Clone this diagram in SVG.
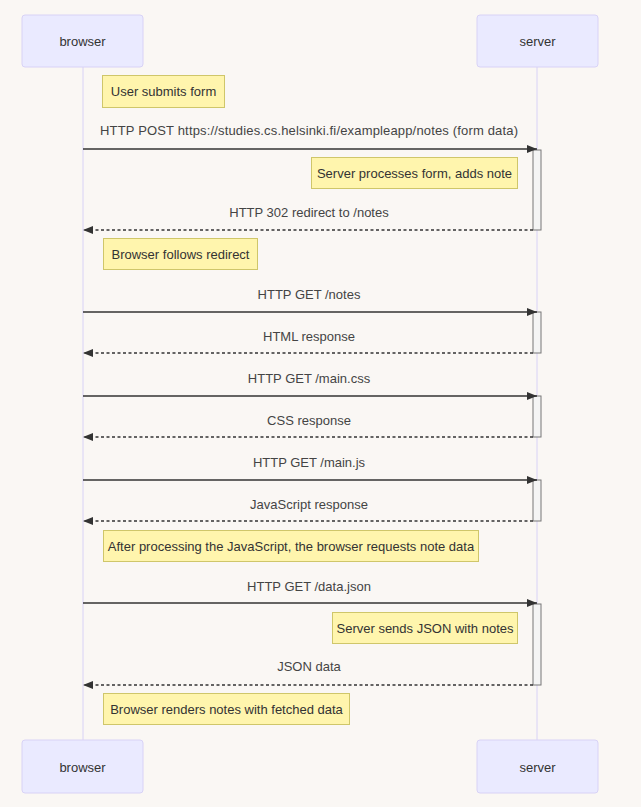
<svg xmlns="http://www.w3.org/2000/svg" width="641" height="807" viewBox="0 0 641 807">
<style>
.bg{fill:#faf7f4}
.actor{fill:#eaeaff;stroke:#d8d2f6;stroke-width:1}
.life{stroke:#d8d2f6;stroke-width:1}
.note{fill:#fff5ad;stroke:#cfc66a;stroke-width:1}
.act{fill:#f4f4f4;stroke:#777;stroke-width:1}
.msg{stroke:#333;stroke-width:1.3;fill:none}
.dash{stroke-dasharray:3,2.5}
text{font-family:"Liberation Sans",Arial,sans-serif;font-size:13px;fill:#333;text-anchor:middle;dominant-baseline:central}
.ml{fill:#444}
</style>
<defs>
<marker id="ah" markerUnits="userSpaceOnUse" markerWidth="10" markerHeight="8" refX="10" refY="4" orient="auto">
<path d="M0,0 L10,4 L0,8 z" fill="#333"/>
</marker>
</defs>
<rect class="bg" x="0" y="0" width="641" height="807"/>
<g id="lifelines">
<line class="life" x1="83" y1="67" x2="83" y2="740"/>
<line class="life" x1="537" y1="67" x2="537" y2="740"/>
</g>
<g id="actor-browser-top"><rect class="actor" x="22" y="15" width="121" height="52" rx="3"/><text x="82.5" y="41">browser</text></g>
<g id="actor-server-top"><rect class="actor" x="477" y="15" width="121" height="52" rx="3"/><text x="537.5" y="41">server</text></g>
<g id="actor-browser-bottom"><rect class="actor" x="22" y="740" width="121" height="53" rx="3"/><text x="82.5" y="767">browser</text></g>
<g id="actor-server-bottom"><rect class="actor" x="477" y="740" width="121" height="53" rx="3"/><text x="537.5" y="767">server</text></g>
<g id="activations">
<rect class="act" x="533" y="150" width="8" height="80"/>
<rect class="act" x="533" y="312" width="8" height="41"/>
<rect class="act" x="533" y="396" width="8" height="41"/>
<rect class="act" x="533" y="480" width="8" height="41"/>
<rect class="act" x="533" y="604" width="8" height="81"/>
</g>
<g id="note1"><rect class="note" x="102.5" y="75.5" width="122" height="32"/><text x="163.5" y="91.5">User submits form</text></g>
<g id="note2"><rect class="note" x="311.5" y="157.5" width="206" height="31"/><text x="414.5" y="173">Server processes form, adds note</text></g>
<g id="note3"><rect class="note" x="103.5" y="238.5" width="154" height="31"/><text x="180.5" y="254">Browser follows redirect</text></g>
<g id="note4"><rect class="note" x="103.5" y="530.5" width="375" height="31"/><text x="291" y="546">After processing the JavaScript, the browser requests note data</text></g>
<g id="note5"><rect class="note" x="332.5" y="612.5" width="185" height="31"/><text x="425" y="628">Server sends JSON with notes</text></g>
<g id="note6"><rect class="note" x="103.5" y="693.5" width="246" height="31"/><text x="226.5" y="709">Browser renders notes with fetched data</text></g>
<g id="connectors">
<line class="msg" x1="83" y1="149" x2="537" y2="149" marker-end="url(#ah)"/>
<line class="msg dash" x1="533" y1="230" x2="83" y2="230" marker-end="url(#ah)"/>
<line class="msg" x1="83" y1="312" x2="537" y2="312" marker-end="url(#ah)"/>
<line class="msg dash" x1="533" y1="353" x2="83" y2="353" marker-end="url(#ah)"/>
<line class="msg" x1="83" y1="396" x2="537" y2="396" marker-end="url(#ah)"/>
<line class="msg dash" x1="533" y1="437" x2="83" y2="437" marker-end="url(#ah)"/>
<line class="msg" x1="83" y1="480" x2="537" y2="480" marker-end="url(#ah)"/>
<line class="msg dash" x1="533" y1="521" x2="83" y2="521" marker-end="url(#ah)"/>
<line class="msg" x1="83" y1="603" x2="537" y2="603" marker-end="url(#ah)"/>
<line class="msg dash" x1="533" y1="685" x2="83" y2="685" marker-end="url(#ah)"/>
</g>
<g id="labels">
<text class="ml" x="309" y="130" textLength="418" lengthAdjust="spacing">HTTP POST https://studies.cs.helsinki.fi/exampleapp/notes (form data)</text>
<text class="ml" x="309" y="212">HTTP 302 redirect to /notes</text>
<text class="ml" x="309" y="294">HTTP GET /notes</text>
<text class="ml" x="309" y="336">HTML response</text>
<text class="ml" x="309" y="378">HTTP GET /main.css</text>
<text class="ml" x="309" y="420">CSS response</text>
<text class="ml" x="309" y="462">HTTP GET /main.js</text>
<text class="ml" x="309" y="504">JavaScript response</text>
<text class="ml" x="309" y="586">HTTP GET /data.json</text>
<text class="ml" x="309" y="666">JSON data</text>
</g>
</svg>
